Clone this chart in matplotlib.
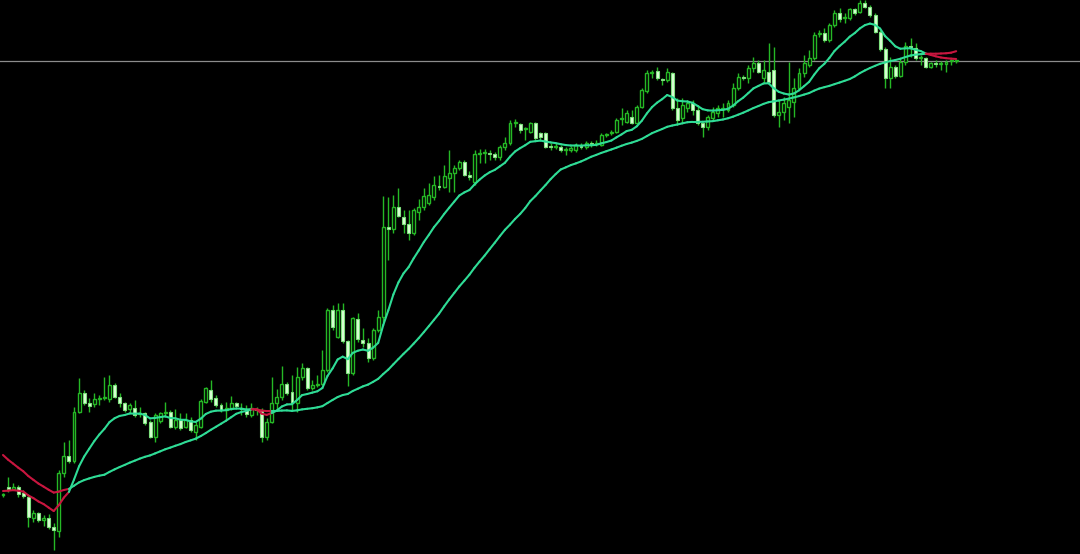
import numpy as np
import pandas as pd
import matplotlib
matplotlib.use("Agg")
import matplotlib.pyplot as plt
from matplotlib.collections import LineCollection

# ---- data (price units) ----
opens = [105,113,111,113,107,103,82,87,80,82,73,69,127,144,139,188,207,197,196,201,
         202,201,215,203,197,191,192,186,187,178,163,179,187,188,173,180,173,180,168,173,
         198,210,202,195,190,192,197,192,191,185,191,190,163,178,197,203,216,208,197,223,
         232,212,215,216,230,290,263,290,259,227,281,260,257,242,270,283,373,371,393,383,
         376,367,388,393,397,403,414,413,422,427,432,438,425,418,446,447,447,446,443,453,
         457,477,476,471,468,477,467,467,454,453,453,450,450,450,455,453,457,456,455,465,
         467,468,481,478,483,477,493,509,527,529,521,520,527,492,482,492,497,490,477,473,
         482,487,491,490,495,512,523,522,532,537,522,528,530,485,488,493,498,512,527,535,
         542,566,567,560,575,587,582,582,591,588,597,593,585,568,551,522,533,524,538,554,
         552,542,542,533,537,536,536,539,539]
highs = [107,123,117,115,110,105,90,88,85,86,77,130,158,160,193,222,210,202,207,205,
         223,225,217,207,198,197,200,193,188,180,187,188,198,190,191,187,187,183,178,201,
         213,220,205,197,198,204,198,197,195,197,193,192,182,223,211,234,218,225,233,237,
         233,220,225,250,292,295,297,297,260,283,287,272,262,272,290,404,403,405,412,390,
         390,392,401,412,417,424,425,435,450,435,440,440,429,450,451,451,450,448,455,463,
         480,481,477,473,478,478,468,468,457,457,455,453,454,457,457,459,459,460,467,467,
         470,482,492,490,490,495,512,530,530,533,522,532,528,502,502,500,500,495,478,485,
         493,495,497,500,517,527,525,535,543,540,540,557,553,500,503,538,522,532,545,550,
         568,570,572,577,590,592,587,592,592,600,600,595,587,570,553,543,535,542,558,562,
         557,545,543,538,540,539,540,541,540]
lows = [103,108,110,103,102,73,78,78,74,71,50,63,123,137,137,187,195,188,193,195,
        200,198,202,193,188,187,183,183,175,162,158,177,183,172,171,170,172,168,160,172,
        197,198,193,188,180,190,192,185,183,183,185,158,160,177,190,200,205,190,188,220,
        210,210,213,215,228,270,262,257,214,225,258,253,238,240,268,277,340,367,383,367,
        360,365,380,390,395,400,410,412,408,408,430,424,420,415,437,437,440,440,440,450,
        455,473,467,460,467,460,460,452,450,451,448,445,448,448,451,451,453,454,454,463,
        465,467,475,477,476,476,492,507,522,520,515,518,490,475,478,488,485,475,463,470,
        480,483,483,488,493,510,520,517,528,527,517,517,483,473,480,477,483,510,523,533,
        540,563,558,558,573,578,577,580,585,587,592,583,567,549,512,512,522,523,535,543,
        540,535,532,532,533,530,528,535,537]
closes = [105,111,113,106,104,83,87,80,82,73,70,127,144,139,188,207,197,194,201,202,
          202,215,203,197,190,195,185,187,177,163,185,187,188,173,180,172,180,170,175,199,
          212,201,195,190,192,197,194,191,186,192,190,163,178,197,203,216,207,197,223,232,
          212,215,216,230,290,273,290,259,227,282,261,257,242,270,283,373,371,393,384,376,
          367,390,393,404,405,415,413,424,427,432,438,425,423,446,447,447,446,443,453,457,
          477,477,470,471,477,462,463,453,453,453,450,450,452,455,453,457,455,457,465,465,
          468,480,482,487,477,493,510,527,527,522,520,528,492,480,495,497,490,477,473,483,
          488,492,492,497,512,523,522,532,537,528,530,518,485,488,497,500,512,527,537,542,
          565,567,560,575,587,581,582,591,587,597,593,585,568,551,522,533,524,538,554,552,
          542,542,533,537,536,536,538,539,539]

bid_price = 539           # current price line
ma_fast_period = 12       # fast EMA
ma_fast_start = 109       # fast MA value at the first visible bar
ma_slow_period = 36       # slow SMA
ma_slow_start = 145       # slow MA value at the first visible bar
ma_slow_prior_level = 113 # average level of the (unseen) bars before the window

# ---- figure ----
W, H = 1080, 554
fig = plt.figure(figsize=(W / 100, H / 100), dpi=100)
fig.patch.set_facecolor("black")
ax = fig.add_axes([0, 0, 1, 1])
ax.set_facecolor("black")
for s in ax.spines.values():
    s.set_visible(False)
ax.set_xticks([])
ax.set_yticks([])

n = len(closes)
x = np.arange(n)
o = np.array(opens, float)
h = np.array(highs, float)
l = np.array(lows, float)
c = np.array(closes, float)

bull_edge = "#25b825"
bear_face = "#dcffd6"

# wicks
ax.vlines(x, l, h, color=bull_edge, linewidth=1.0, zorder=2)
# bodies
up = c >= o
bw = 0.58
bot = np.minimum(o, c)
ht = np.maximum(np.abs(c - o), 0.6)
ax.bar(x[up], ht[up], bottom=bot[up], width=bw, facecolor="black",
       edgecolor=bull_edge, linewidth=1.0, zorder=3)
ax.bar(x[~up], ht[~up], bottom=bot[~up], width=bw, facecolor=bear_face,
       edgecolor="#7ee07e", linewidth=0.8, zorder=3)


def ema(vals, period, start):
    a = 2.0 / (period + 1)
    out = np.empty(len(vals))
    prev = start
    for i, v in enumerate(vals):
        if i > 0:
            prev = prev + a * (v - prev)
        out[i] = prev
    return out


# fast: EMA of closes
fast = ema(c, ma_fast_period, ma_fast_start)

# slow: SMA of closes; the bars before the window are unknown, so the window
# is padded with their average level, and the first bars are anchored to the
# value seen at the left edge of the chart
padded = np.concatenate([np.full(ma_slow_period - 1, ma_slow_prior_level), c])
sma = pd.Series(padded).rolling(ma_slow_period).mean().to_numpy()[ma_slow_period - 1:]
anchor = ema(c, 20, ma_slow_start)
w = np.clip((20 - x) / 20.0, 0, 1)
slow = w * anchor + (1 - w) * sma

green_ma = "#2fdc96"
red_ma = "#c8163f"
bull_regime = fast >= slow   # green while fast MA is above slow MA


def draw_ma(vals):
    pts = np.column_stack([x, vals])
    segs = np.stack([pts[:-1], pts[1:]], axis=1)
    cols = [green_ma if bull_regime[i + 1] else red_ma for i in range(len(vals) - 1)]
    lc = LineCollection(segs, colors=cols, linewidths=1.5, zorder=4,
                        capstyle="round", joinstyle="round")
    ax.add_collection(lc)


draw_ma(slow)
draw_ma(fast)

ax.axhline(bid_price, color="#8c8c8c", linewidth=0.9, zorder=1)

step = 5.07
left = -3 / step
ax.set_xlim(left, left + W / step)
ax.set_ylim(46, 600)

fig.savefig("out.png", dpi=100, facecolor="black")
